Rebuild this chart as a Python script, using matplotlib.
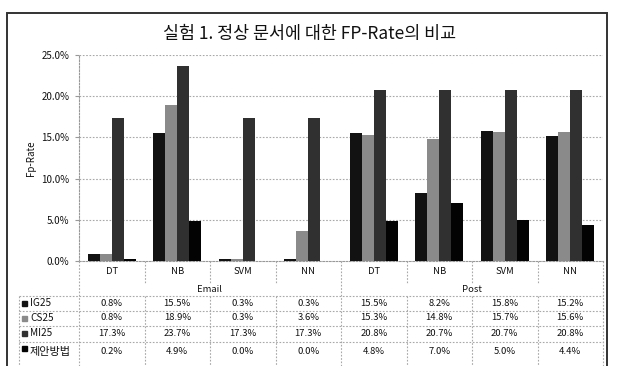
import matplotlib
matplotlib.use("Agg")
import matplotlib.pyplot as plt
from matplotlib.patches import Rectangle
from matplotlib.lines import Line2D
from matplotlib.transforms import blended_transform_factory
import numpy as np

plt.rcParams['font.family'] = ['Noto Sans CJK KR', 'DejaVu Sans']

title = "실험 1. 정상 문서에 대한 FP-Rate의 비교"
groups = ["Email", "Post"]
classifiers = ["DT", "NB", "SVM", "NN", "DT", "NB", "SVM", "NN"]
series_names = ["IG25", "CS25", "MI25", "제안방법"]

ig25 = [0.8, 15.5, 0.3, 0.3, 15.5, 8.2, 15.8, 15.2]
cs25 = [0.8, 18.9, 0.3, 3.6, 15.3, 14.8, 15.7, 15.6]
mi25 = [17.3, 23.7, 17.3, 17.3, 20.8, 20.7, 20.7, 20.8]
proposed = [0.2, 4.9, 0.0, 0.0, 4.8, 7.0, 5.0, 4.4]

yticks = [0, 5, 10, 15, 20, 25]

W, H = 619, 366
colors = ["#121212", "#8a8a8a", "#303030", "#030303"]
text_color = "#111"
grid_kw = dict(color="#a8a8a8", linewidth=0.8, linestyle=(0, (1.5, 1.5)))


def fx(px):
    return px / W


def fy(py):
    return 1 - py / H


fig = plt.figure(figsize=(W / 100, H / 100), dpi=100)
fig.patch.set_facecolor("white")

ax_left, ax_right, ax_top, ax_bottom = 79, 603, 55, 261
ax = fig.add_axes([fx(ax_left), fy(ax_bottom), fx(ax_right - ax_left),
                   (ax_bottom - ax_top) / H])

data = [ig25, cs25, mi25, proposed]
n = len(classifiers)
x = np.arange(n)
bw = 0.183
for i, (vals, c) in enumerate(zip(data, colors)):
    ax.bar(x + (i - 1.5) * bw, vals, width=bw, color=c, zorder=3)

ax.set_xlim(-0.5, n - 0.5)
ax.set_ylim(0, 25)
ax.set_yticks(yticks)
ax.set_yticklabels([f"{t:.1f}%" for t in yticks], fontsize=7, color=text_color)
ax.set_xticks([])
ax.tick_params(axis="y", length=3, color="#999", pad=4)
for t in yticks[1:]:
    ax.axhline(t, zorder=1, **grid_kw)
for side in ["top", "right"]:
    ax.spines[side].set_visible(False)
for side in ["left", "bottom"]:
    ax.spines[side].set_color("#999")
    ax.spines[side].set_linestyle((0, (1.5, 1.5)))
    ax.spines[side].set_linewidth(0.8)

ax.set_ylabel("Fp-Rate", fontsize=7, color=text_color, labelpad=4)

fig.text(fx(310), fy(34), title, fontsize=12.5, ha="center", va="center",
         color=text_color)

# data table under the bars
tr = blended_transform_factory(ax.transData, fig.transFigure)
for k, name in enumerate(classifiers):
    fig.text(k, fy(272), name, transform=tr, fontsize=6.8, ha="center",
             va="center", color=text_color)
for g, name in enumerate(groups):
    fig.text(g * 4 + 1.5, fy(289), name, transform=tr, fontsize=6.8,
             ha="center", va="center", color=text_color)

row_y = [303, 318, 333, 352]
for vals, name, c, ry in zip(data, series_names, colors, row_y):
    for k, v in enumerate(vals):
        fig.text(k, fy(ry), f"{v:.1f}%", transform=tr, fontsize=6.8,
                 ha="center", va="center", color=text_color)
    key_y = ry - 4 if name == "제안방법" else ry
    fig.patches.append(Rectangle((fx(22), fy(key_y + 2.5)), fx(5), 5 / H,
                                 transform=fig.transFigure, color=c))
    fig.text(fx(30), fy(ry), name, fontsize=7.2 if name != "제안방법" else 8,
             ha="left", va="center", color=text_color)

lines = []
for hy in [296, 311, 326, 342]:
    lines.append(([fx(19), fx(ax_right)], [fy(hy), fy(hy)]))
lines.append(([fx(19), fx(19)], [fy(296), fy(370)]))
lines.append(([fx(ax_left), fx(ax_left)], [fy(261), fy(370)]))
lines.append(([fx(ax_right), fx(ax_right)], [fy(261), fy(370)]))
step = (ax_right - ax_left) / n
for k in range(1, n):
    bx = fx(ax_left + k * step)
    if k == 4:
        lines.append(([bx, bx], [fy(261), fy(370)]))
    else:
        lines.append(([bx, bx], [fy(261), fy(283)]))
        lines.append(([bx, bx], [fy(296), fy(370)]))
for xs, ys in lines:
    fig.lines.append(Line2D(xs, ys, transform=fig.transFigure, **grid_kw))

# outer chart frame
fig.patches.append(Rectangle((fx(7), fy(372)), fx(607 - 7), (372 - 13) / H,
                             transform=fig.transFigure, fill=False,
                             edgecolor="#333", linewidth=1.4))

fig.savefig("out.png", dpi=100)
